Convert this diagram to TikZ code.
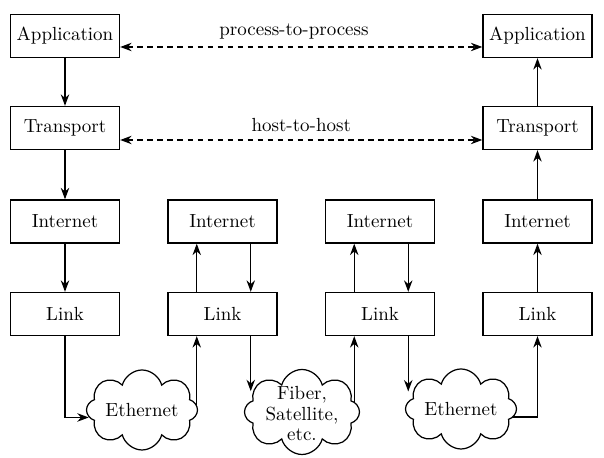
\documentclass[tikz,border=0pt]{standalone}
\usetikzlibrary{arrows.meta,shapes.symbols,backgrounds}

\begin{document}
\begin{tikzpicture}[
        font=\fontsize{10.8}{12.5}\selectfont,
        layer/.style={draw, line width=0.8pt, minimum width=2.18cm, minimum height=0.86cm, inner sep=0pt},
        net/.style={cloud, draw, fill=white, line width=0.7pt, cloud puffs=8, cloud puff arc=150, cloud ignores aspect, minimum width=2.22cm, minimum height=1.6cm, inner sep=0pt},
        flow/.style={-{Stealth[length=6.5pt,width=4.8pt]}, line width=0.7pt},
        peer/.style={{Stealth[length=6.5pt,width=4.8pt]}-{Stealth[length=6.5pt,width=4.8pt]}, line width=0.7pt, dash pattern=on 3.3pt off 2.4pt}
    ]
        \useasboundingbox (0,0) rectangle (12.08,9.16);

        % hosts at both ends
        \node[layer] (app1) at (1.30,8.44) {Application};
        \node[layer] (tr1) at (1.30,6.60) {Transport};
        \node[layer] (app4) at (10.75,8.44) {Application};
        \node[layer] (tr4) at (10.75,6.60) {Transport};

        \foreach \i/\x in {1/1.30, 2/4.45, 3/7.60, 4/10.75} {
            \node[layer] (ip\i) at (\x,4.73) {Internet};
            \node[layer] (ln\i) at (\x,2.88) {Link};
        }

        % networks
        \node[net] (eth1) at (2.84,0.96) {};
        \node (eth1txt) at (eth1) {Ethernet};
        \node[net, minimum height=1.7cm, minimum width=2.3cm] (fib) at (6.04,0.92) {};
        \node[align=center, font=\fontsize{10.8}{11.8}\selectfont] (fibtxt) at ([yshift=-1pt]fib) {Fiber,\\Satellite,\\etc.};
        \node[net] (eth2) at (9.22,0.98) {};
        \node (eth2txt) at (eth2) {Ethernet};

        % peer arrows
        \draw[peer] ([yshift=-0.22cm]app1.east) -- node[above=1pt, pos=0.48] (p2p) {process-to-process} ([yshift=-0.22cm]app4.west);
        \draw[peer] ([yshift=-0.24cm]tr1.east) -- node[above=1pt] (h2h) {host-to-host} ([yshift=-0.24cm]tr4.west);

        % down the sender
        \draw[flow] (app1) -- (tr1);
        \draw[flow] (tr1) -- (ip1);
        \draw[flow] (ip1) -- (ln1);
        \draw[flow] (ln1.south) |- (eth1.188);

        % routers
        \foreach \i in {2,3} {
            \coordinate (up\i) at ([xshift=-0.515cm]ln\i.south);
            \coordinate (dn\i) at ([xshift=0.565cm]ln\i.south);
            \draw[flow] ([xshift=-0.515cm]ln\i.north) -- ([xshift=-0.515cm]ip\i.south);
            \draw[flow] ([xshift=0.565cm]ip\i.south) -- ([xshift=0.565cm]ln\i.north);
        }
        \draw[flow] (dn2) -- (dn2 |- fib.157);
        \draw[flow] (dn3) -- (dn3 |- eth2.160);

        % up the receiver
        \draw[flow] (ln4) -- (ip4);
        \draw[flow] (ip4) -- (tr4);
        \draw[flow] (tr4) -- (app4);

        \begin{pgfonlayer}{background}
            \draw[flow] (up2 |- eth1) -- (up2);
            \draw[flow] (up3 |- fib) -- (up3);
            \draw[flow] ([yshift=-0.16cm]eth2.center) -| (ln4.south);
        \end{pgfonlayer}

    \end{tikzpicture}
\end{document}
